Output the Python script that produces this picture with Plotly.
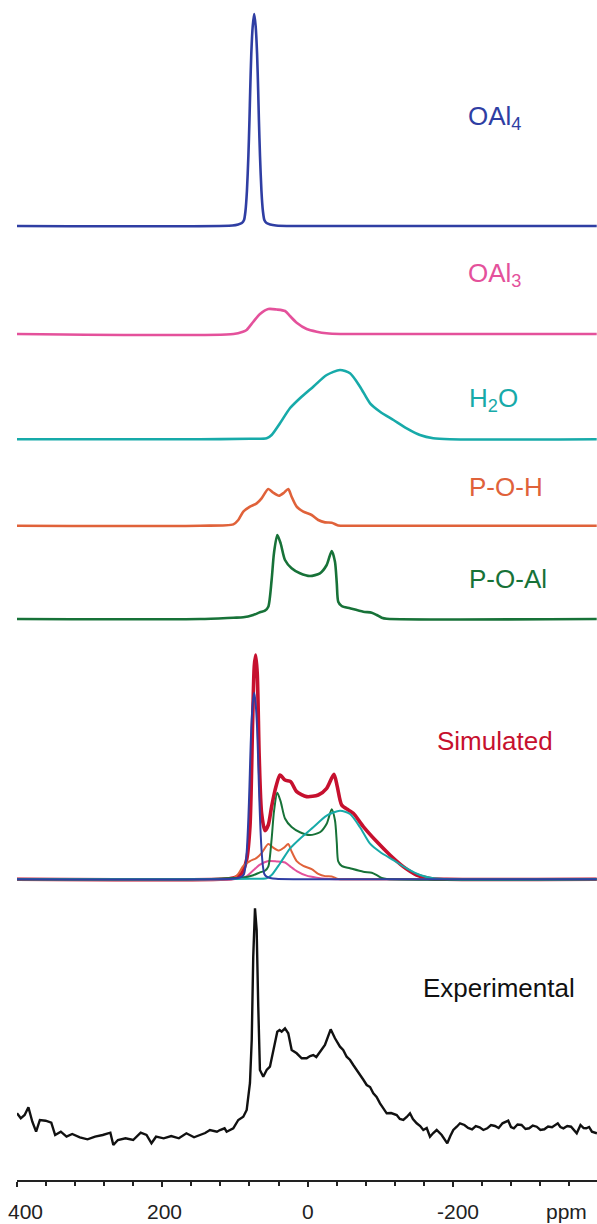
import plotly.graph_objects as go

# ---------------- data (ppm, intensity in px units) ----------------
OAL4_PPM = [400, 103.5, 95.5, 90.5, 87.5, 85.5, 83.5, 81.5, 80, 79, 77.5, 75.5, 73.5,
            71.5, 69.5, 68, 67, 65.5, 63.5, 61.5, 59.5, 56.5, 51.5, 43.5, 20, -398]
OAL4_INT = [0, 0.5, 1.5, 3, 6, 15, 35, 70, 106, 135, 172, 200, 212,
            200, 172, 135, 106, 70, 35, 15, 6, 3, 1.5, 0.5, 0, 0]

OAL3_PPM = [400, 102, 89, 84, 75, 65.5, 54, 42.5, 31, 24.3, 15, 1.3, -12.5, -26, -45, -398]
OAL3_INT = [0, 0, 2.3, 4, 12, 20, 25, 24.5, 23, 18, 11.3, 5, 2.3, 0.7, 0, 0]

H2O_PPM = [400, 148, 79.3, 56.4, 49.5, 38, 24.3, 10.5, -7.8, -26.3, -44.6, -58.4, -72.2,
           -86, -99.8, -118.2, -136.4, -154.7, -173, -196, -398]
H2O_INT = [0, 0, 0.5, 1, 4.3, 16, 31, 41, 52.6, 64.3, 69.3, 66, 52.6,
           36, 27.6, 19.3, 11, 4.3, 1, 0, 0]

POH_PPM = [400, 148, 102.2, 95.4, 88.5, 79.3, 70.1, 63.3, 54.1, 47.3, 39.4, 32.5, 26.6,
           22.0, 15.0, 5.9, -5.6, -14.7, -24, -33.2, -42.2, -58.4, -398]
POH_INT = [0, 0, 1.3, 5.7, 14, 19, 22.3, 27.3, 36.7, 33, 30, 33, 36.7,
           29, 19, 14, 10.7, 5.7, 3.3, 3, 0.3, 0, 0]

POAL_PPM = [400, 148, 102.2, 88.5, 74.8, 65.6, 58.7, 54.1, 49.5, 46.3, 41.7, 37.1, 31.1,
            22.0, 10.5, -3.3, -17.0, -26.3, -33.2, -37.7, -40.2, -42.2, -46.9, -58.4,
            -76.7, -88.3, -95.1, -102, -109, -398]
POAL_INT = [0, 0, 1.3, 1.7, 4, 6.7, 8.3, 12.3, 39, 65.7, 84, 75.7, 59,
            50.7, 45.7, 43, 45.7, 54, 68, 57.3, 35.7, 17.3, 13, 10.7,
            7.3, 6.3, 4, 1.3, 0.3, 0]

SIM_PPM = [400, 120, 102.2, 90.8, 84.0, 79.3, 75.7, 73.4, 71.5, 69.3, 66.6, 63.3, 58.7,
           54.1, 49.5, 43.5, 38.0, 31.1, 23.3, 15.0, 1.3, -14.7, -26.3, -36.3, -40.9,
           -46.9, -56.1, -62.9, -76.7, -95.1, -113.4, -131.7, -150.1, -168.4, -191, -398]
SIM_INT = [0, 0, 1.3, 6, 19.3, 52.7, 156, 213, 224.3, 206, 122.7, 66, 48.7,
           54.3, 72.7, 92.7, 104.3, 99.3, 97.7, 87.7, 82.7, 84.3, 91, 105, 92.7,
           74.3, 69.3, 66, 52.7, 37.7, 24.3, 12.7, 4.3, 0.7, 0, 0]

# component weights seen in the simulated overlay
SIM_WEIGHTS = {"OAl4": 0.88, "OAl3": 0.73, "H2O": 0.99, "POH": 0.96, "POAl": 1.03}

EXP_PPM = [400.0, 394.8, 389.5, 384.3, 378.9, 373.7, 368.5, 360.6, 352.8, 347.5, 339.7,
           331.8, 324.0, 313.5, 302.9, 292.5, 282.0, 271.5, 267.4, 261.1, 250.6, 240.1,
           229.7, 221.7, 214.9, 208.6, 198.1, 187.7, 177.2, 166.8, 156.3, 148.2, 141.0,
           134.4, 124.8, 120.6, 114.3, 111.4, 102.3, 95.4, 88.5, 83.8, 79.3, 76.9, 74.8,
           72.4, 70.1, 67.9, 65.6, 61.0, 56.3, 51.8, 47.2, 41.7, 38.5, 35.7, 31.1, 26.6,
           21.9, 15.0, 8.1, 1.3, -3.5, -7.8, -12.0, -17.1, -23.9, -31.8, -37.7, -44.6,
           -49.0, -53.8, -58.5, -62.9, -67.0, -72.1, -77.0, -81.4, -86.0, -90.5, -95.0,
           -99.7, -104.0, -108.9, -115.0, -122.7, -127.0, -131.8, -136.5, -141.0, -145.0,
           -150.2, -155.0, -159.3, -164.0, -168.5, -173.0, -177.7, -184.6, -188.5, -192.3,
           -196.5, -200.6, -205.4, -209.8, -215.9, -221.0, -226.4, -231.5, -236.8, -242.0,
           -247.3, -252.5, -257.9, -263.0, -268.3, -276.2, -280.0, -284.0, -289.0, -294.5,
           -300.0, -305.0, -310.0, -315.4, -320.5, -325.9, -331.0, -336.5, -344.4, -348.0,
           -352.2, -357.5, -362.7, -366.5, -370.5, -375.7, -380.0, -383.6, -387.5, -391.4,
           -398.3]
EXP_INT = [16.7, 11.7, 15, 22.7, 8.3, -1.7, 10, 9.3, 7.3, -5, -1.7,
           -6.7, -4, -7.3, -9.3, -6.7, -5, -2.7, -15, -10, -8.3, -10,
           -2.7, -5, -13.3, -6.7, -8.3, -6, -8.3, -3.3, -7.3, -5, -3,
           0, -1.7, 0, 1.7, -1.7, 1.7, 10, 13.3, 20, 47, 90, 173.3,
           221.7, 200, 123.3, 60, 53.3, 60, 63.3, 80, 98.3, 100, 98.3, 101.7, 96.7,
           80, 76.7, 71.7, 71.7, 74, 75, 73, 78.3, 85, 100.7, 91.7, 83.3,
           80, 73.3, 70, 65, 61, 55, 50, 45, 43, 36.7, 33,
           26.7, 22, 16.7, 17, 15, 11, 10, 13, 16.7, 11,
           6.7, 4, 0, 2, -6.7, -3, 0, -5, -9, -13.3,
           -6, 0, 3.3, 6.7, 5, 2, 0.7, 4, 2.7, 0,
           1.7, 5, 4, 2, 6.7, 9.3, 3, 1.7, 5.5, 5,
           1, 1.7, 4.5, 3.3, 0, 0.7, 3.5, 2.7, 6.7, 3,
           1.7, 4, 3.3, 0.5, -3.3, 5, 2, 1.7, 3, -1.7,
           -3.3]

LABELS = {
    "OAl4": "OAl<sub>4</sub>", "OAl3": "OAl<sub>3</sub>", "H2O": "H<sub>2</sub>O",
    "POH": "P-O-H", "POAl": "P-O-Al", "SIM": "Simulated", "EXP": "Experimental",
}
TICK_VALUES = [400, 200, 0, -200]
TICK_LABELS = ["400", "200", "0", "-200"]
AXIS_UNIT = "ppm"

# ---------------- layout constants ----------------
W, H = 597, 1224
ML, MB = 17, 44
PLOT_W, PLOT_H = W - ML, H - MB
X_RANGE = [400, -398.4]

COLORS = {
    "OAl4": "#2f3ea3", "OAl3": "#e4519b", "H2O": "#17aaa9", "POH": "#e0623a",
    "POAl": "#177238", "SIM": "#c6102e", "EXP": "#111111",
}
BASE_PX = {"OAl4": 226, "OAl3": 334, "H2O": 439.3, "POH": 525.7, "POAl": 619,
           "SIM": 879.3, "EXP": 1130}
LABEL_POS = {  # left x, vertical centre in page pixels
    "OAl4": (466, 117), "OAl3": (466, 274), "H2O": (467, 399), "POH": (467, 487),
    "POAl": (467, 579), "SIM": (435, 741), "EXP": (421, 988),
}

FONT = "Liberation Sans, Arial, Helvetica, sans-serif"


def ybase(key):
    return PLOT_H - BASE_PX[key]


fig = go.Figure()


def add(key, ppm, inten, color, width, scale=1.0, base_key=None):
    b = ybase(base_key or key)
    fig.add_trace(go.Scatter(
        x=ppm, y=[b + scale * v for v in inten], mode="lines",
        line=dict(color=color, width=width, shape="spline", smoothing=0.7),
        hoverinfo="skip", showlegend=False))


add("OAl4", OAL4_PPM, OAL4_INT, COLORS["OAl4"], 2.6)
add("OAl3", OAL3_PPM, OAL3_INT, COLORS["OAl3"], 2.6)
add("H2O", H2O_PPM, H2O_INT, COLORS["H2O"], 2.6)
add("POH", POH_PPM, POH_INT, COLORS["POH"], 2.6)
add("POAl", POAL_PPM, POAL_INT, COLORS["POAl"], 2.6)

# simulated overlay
add("SIM", SIM_PPM, SIM_INT, COLORS["SIM"], 3.6)
add("c1", OAL3_PPM, OAL3_INT, COLORS["OAl3"], 2.0, SIM_WEIGHTS["OAl3"], "SIM")
add("c2", POH_PPM, POH_INT, COLORS["POH"], 2.0, SIM_WEIGHTS["POH"], "SIM")
add("c3", POAL_PPM, POAL_INT, COLORS["POAl"], 2.0, SIM_WEIGHTS["POAl"], "SIM")
add("c4", H2O_PPM, H2O_INT, COLORS["H2O"], 2.0, SIM_WEIGHTS["H2O"], "SIM")
add("c5", OAL4_PPM, OAL4_INT, COLORS["OAl4"], 2.0, SIM_WEIGHTS["OAl4"], "SIM")

# experimental
b = ybase("EXP")
fig.add_trace(go.Scatter(
    x=EXP_PPM, y=[b + v for v in EXP_INT], mode="lines",
    line=dict(color=COLORS["EXP"], width=2.4, shape="linear"),
    hoverinfo="skip", showlegend=False))

annotations = []
for key, text in LABELS.items():
    px, py = LABEL_POS[key]
    annotations.append(dict(
        x=(px - ML) / PLOT_W, y=(PLOT_H - py) / PLOT_H, xref="paper", yref="paper",
        xanchor="left", yanchor="middle", text=text, showarrow=False,
        font=dict(family=FONT, size=26, color=COLORS[key])))

TICK_SHIFT = {"400": 8, "200": 2, "0": 0, "-200": 5}
for val, lab in zip(TICK_VALUES, TICK_LABELS):
    annotations.append(dict(
        x=val, y=(PLOT_H - 1211) / PLOT_H, xref="x", yref="paper",
        xanchor="center", yanchor="middle", text=lab, showarrow=False,
        xshift=TICK_SHIFT[lab], font=dict(family=FONT, size=21, color="#222222")))
annotations.append(dict(
    x=(566 - ML) / PLOT_W, y=(PLOT_H - 1211) / PLOT_H, xref="paper", yref="paper",
    xanchor="center", yanchor="middle", text=AXIS_UNIT, showarrow=False,
    font=dict(family=FONT, size=21, color="#222222")))

fig.update_layout(
    width=W, height=H, margin=dict(l=ML, r=0, t=0, b=MB, pad=0),
    paper_bgcolor="white", plot_bgcolor="white",
    xaxis=dict(range=X_RANGE, showgrid=False, zeroline=False, showline=True,
               linecolor="#222222", linewidth=2, ticks="outside", ticklen=5,
               tickwidth=1.5, tickcolor="#222222", tickmode="linear", tick0=0,
               dtick=200, showticklabels=False,
               minor=dict(ticks="outside", ticklen=4, tickwidth=1.5,
                          tickcolor="#222222", dtick=40, tick0=0, showgrid=False)),
    yaxis=dict(range=[0, PLOT_H], visible=False, showgrid=False, zeroline=False),
    annotations=annotations,
)

fig.write_html("out.html")
